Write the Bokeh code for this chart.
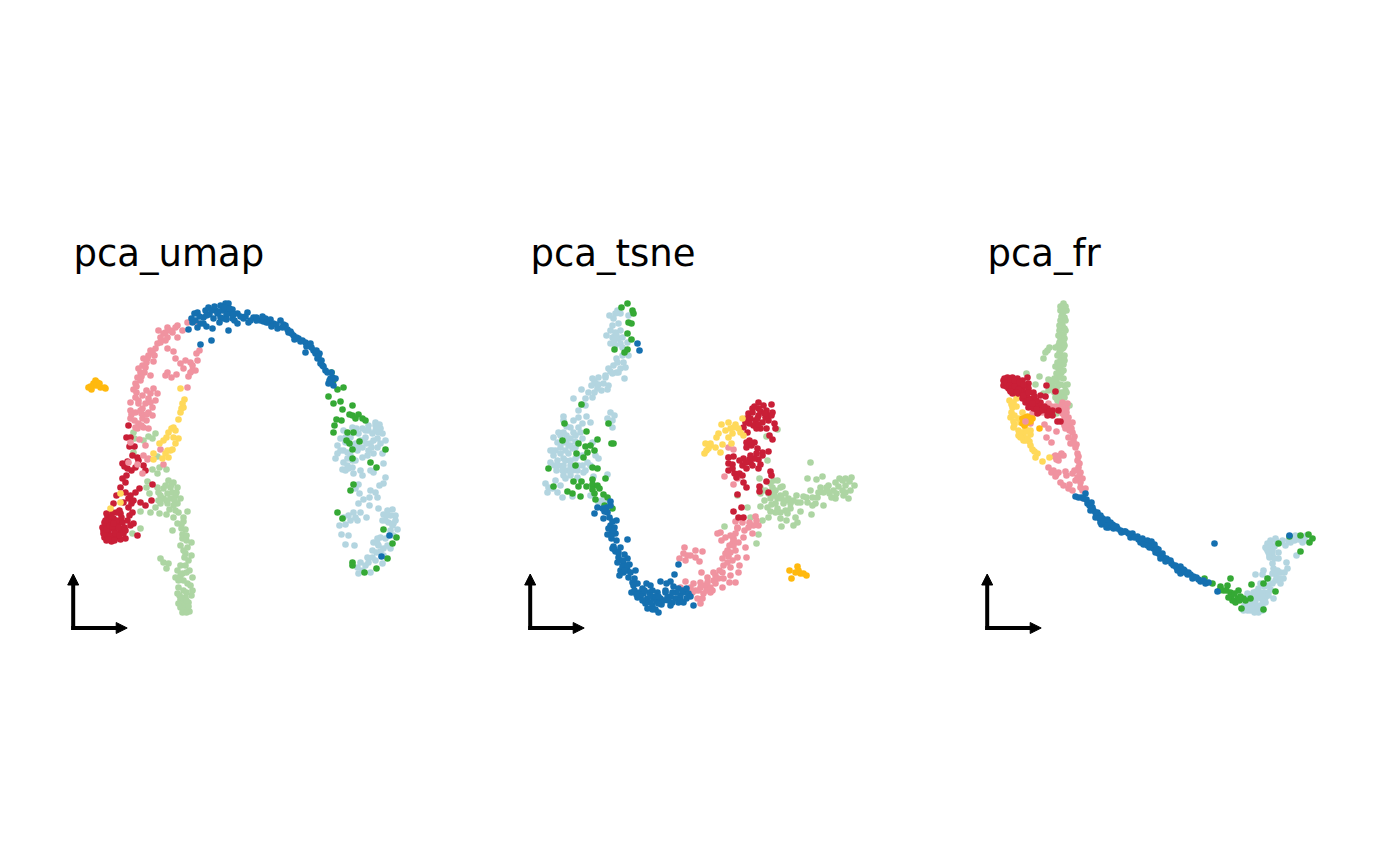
from bokeh.plotting import figure
from bokeh.layouts import row
from bokeh.models import Arrow, NormalHead
from bokeh.core.properties import value
from bokeh.embed import file_html
from bokeh.resources import INLINE

RED = "#C91F37"; PINK = "#F093A0"; LGREEN = "#ADD5A3"; GREEN = "#35A935"
BLUE = "#1570B0"; LBLUE = "#B3D5E0"; YELLOW = "#FFD95A"; ORANGE = "#FFB90F"

titles = ["pca_umap", "pca_tsne", "pca_fr"]

umap_orange = [(88,387),(91,389),(93,383),(95,380),(97,382),(96,385),(100,387),(104,387),(105,388),(93,385),(90,386),(99,383)]
umap_red = [(103,530),(105,525),(104,537),(106,540),(108,533),(110,528),(112,535),(114,530),(116,537),(118,533),(120,528),(122,531),(110,522),(113,518),(107,516),(115,525),(118,522),(122,522),(125,538),(120,539),(111,541),(107,535),(103,533),(116,512),(120,513),(108,520),(112,512),(106,513),(124,527),(102,527),(110,536),(128,425),(126,437),(130,437),(129,446),(134,446),(132,455),(137,457),(122,463),(127,468),(135,467),(143,465),(145,470),(122,478),(125,482),(120,487),(139,488),(135,492),(128,498),(116,495),(123,502),(113,503),(140,502),(145,505),(151,500),(152,484),(128,507),(132,512),(133,523),(137,535),(119,510),(131,503),(127,461),(126,475),(130,495),(133,500),(129,515),(125,492),(124,466),(131,470),(138,460),(104,522),(106,529),(109,525),(112,526),(115,533),(119,535),(114,540),(108,539),(116,520),(121,517),(111,516),(105,520),(118,527),(123,533),(113,523),(125,530),(127,520),(130,525)]
umap_pink = [(187,322),(177,325),(167,327),(172,332),(163,333),(167,337),(177,337),(160,337),(157,343),(155,348),(150,350),(148,355),(153,361),(143,358),(142,365),(150,375),(140,372),(137,377),(135,383),(140,380),(133,389),(153,388),(150,393),(157,393),(148,398),(142,395),(135,397),(138,403),(130,402),(152,407),(148,412),(130,410),(135,412),(142,408),(130,418),(142,418),(138,423),(135,427),(143,427),(148,428),(137,428),(139,439),(145,445),(130,442),(160,449),(143,455),(148,458),(128,462),(137,464),(142,473),(163,464),(167,348),(173,351),(175,358),(180,363),(183,368),(167,372),(165,375),(171,377),(176,374),(188,376),(192,370),(195,370),(190,362),(192,365),(197,360),(196,353),(199,350),(187,387),(198,323),(182,330),(158,330),(152,352),(146,362),(138,368),(144,372),(146,390),(136,392),(150,402),(141,413),(146,420),(134,420),(170,330),(165,340),(147,459),(175,327),(165,332),(160,342),(154,355),(147,358),(145,367),(141,376),(136,386),(138,400),(145,403),(140,410),(146,414),(152,415),(141,425),(131,414),(155,400),(185,360),(190,372)]
umap_yellow = [(180,388),(184,399),(183,407),(180,412),(178,419),(173,427),(168,432),(166,437),(163,440),(159,443),(173,437),(178,438),(175,443),(170,450),(165,453),(167,450),(153,453),(153,459),(162,458),(120,493),(120,502),(110,508),(182,403),(181,408),(175,430),(171,428),(168,457),(172,449)]
umap_lgreen = [(133,432),(134,438),(143,440),(148,436),(152,438),(155,433),(133,452),(157,456),(152,469),(159,467),(166,469),(157,473),(147,481),(146,487),(149,493),(157,487),(158,492),(168,480),(173,482),(177,487),(170,487),(163,488),(167,493),(175,495),(180,498),(170,498),(163,498),(167,503),(177,503),(160,503),(155,507),(150,512),(140,511),(159,513),(166,514),(173,517),(178,512),(187,511),(183,517),(183,521),(177,523),(181,528),(185,529),(172,530),(140,528),(132,533),(182,538),(191,542),(180,545),(187,547),(191,555),(185,553),(188,560),(160,558),(163,562),(168,563),(166,568),(180,565),(185,565),(177,570),(182,573),(192,577),(175,577),(187,583),(178,587),(177,593),(183,590),(191,595),(185,597),(180,599),(188,602),(181,605),(185,607),(189,611),(180,607),(165,485),(172,492),(160,495),(174,500),(182,534),(186,535),(183,550),(189,570),(183,580),(186,592),(179,595),(184,602),(188,606),(183,610),(171,484),(166,500),(173,505),(158,500),(176,492),(169,509),(175,510),(181,524),(186,540),(184,557),(186,572),(180,575),(178,580),(190,585),(192,590),(181,597),(186,600),(178,603),(182,612),(186,612)]
umap_blue = [(188,329),(192,322),(194,313),(197,312),(197,327),(200,323),(203,317),(205,310),(208,307),(213,318),(212,328),(215,310),(220,305),(220,317),(223,318),(225,303),(228,303),(227,310),(230,313),(232,318),(237,313),(228,330),(211,340),(200,344),(237,323),(247,312),(243,318),(248,322),(253,317),(260,320),(265,318),(268,322),(273,323),(280,320),(277,328),(285,325),(288,332),(293,335),(298,338),(305,342),(308,345),(305,352),(313,350),(319,353),(317,358),(320,363),(325,370),(332,377),(328,383),(333,385),(330,378),(203,323),(209,314),(222,310),(226,314),(232,309),(218,311),(234,320),(256,320),(263,321),(270,319),(283,324),(291,333),(296,337),(302,340),(311,347),(315,353),(322,365),(331,372),(329,380),(191,318),(195,320),(199,316),(206,315),(211,310),(214,306),(217,313),(224,307),(229,308),(233,314),(240,316),(245,316),(250,320),(256,317),(262,316),(266,322),(271,326),(276,324),(282,327),(287,329),(290,331),(294,339),(300,341),(306,346),(310,343),(316,350),(318,356),(321,360),(323,366),(327,372),(331,381),(335,378),(226,319),(219,322),(206,326)]
umap_green = [(331,372),(333,380),(337,389),(343,387),(328,396),(333,403),(340,401),(352,405),(342,409),(352,415),(336,419),(341,420),(355,418),(362,418),(365,420),(334,425),(333,432),(353,432),(347,432),(346,440),(349,443),(359,441),(352,449),(385,449),(352,458),(370,462),(376,467),(353,484),(350,490),(337,512),(342,518),(352,562),(352,565),(364,572),(376,568),(387,558),(392,543),(396,537),(383,529),(349,414),(358,414)]
umap_blue2 = [(389,535),(381,556)]
umap_lblue = [(337,445),(340,438),(343,430),(352,427),(362,428),(368,425),(375,422),(380,428),(382,433),(372,433),(365,437),(358,433),(350,437),(377,438),(380,443),(370,443),(362,447),(357,450),(350,455),(343,450),(337,453),(335,458),(343,462),(347,465),(342,469),(352,467),(353,473),(360,470),(362,475),(373,453),(367,455),(362,457),(382,453),(383,463),(373,472),(385,477),(383,483),(379,485),(358,484),(355,488),(359,493),(370,490),(375,492),(369,497),(377,497),(363,499),(358,503),(369,505),(353,512),(360,512),(355,517),(378,508),(387,510),(392,509),(395,515),(383,514),(382,520),(388,522),(393,523),(366,517),(357,520),(343,517),(339,525),(345,524),(341,534),(348,535),(345,544),(354,545),(397,529),(377,538),(373,542),(380,537),(385,538),(378,545),(383,548),(390,548),(372,557),(367,557),(360,562),(357,567),(358,573),(370,572),(382,563),(345,442),(355,443),(365,430),(375,430),(371,447),(377,447),(347,458),(368,450),(363,440),(385,520),(380,551),(365,565),(375,560),(379,424),(348,468),(390,530),(347,440),(352,445),(358,447),(366,443),(373,440),(378,432),(368,430),(356,428),(345,437),(340,450),(347,452),(355,460),(345,470),(375,425),(385,440),(360,440),(370,470),(352,460),(390,515),(392,525),(386,515),(393,535),(395,520),(377,543),(372,550),(368,562),(362,570),(376,552),(383,555),(387,545),(350,520),(348,515)]

tsne_lblue = [(609,315),(617,310),(620,313),(628,315),(613,318),(618,323),(610,330),(615,332),(620,330),(612,337),(618,338),(610,343),(615,345),(620,343),(627,342),(628,355),(622,355),(616,358),(623,362),(613,365),(608,368),(620,368),(625,367),(612,373),(624,378),(598,377),(605,377),(603,383),(608,385),(595,383),(591,385),(607,389),(581,389),(597,388),(588,392),(592,397),(585,398),(573,398),(582,404),(585,405),(578,410),(578,417),(563,416),(563,420),(610,412),(614,415),(607,418),(612,420),(612,427),(590,422),(582,423),(578,427),(570,427),(563,432),(558,432),(573,432),(580,432),(570,438),(582,438),(592,442),(563,442),(557,442),(568,445),(575,447),(560,447),(550,450),(560,453),(553,455),(568,453),(582,455),(595,455),(598,458),(550,462),(557,460),(570,460),(563,465),(558,465),(570,465),(582,465),(590,465),(562,470),(577,470),(583,472),(563,475),(570,475),(593,476),(607,474),(577,477),(565,478),(545,483),(560,485),(548,487),(552,488),(547,492),(557,492),(562,497),(572,496),(590,495),(598,502),(594,381),(598,384),(572,448),(565,450),(575,458),(555,450),(587,462),(566,435),(601,500),(605,503),(614,336),(622,337),(616,372),(610,371),(553,437),(566,440),(575,441),(552,450),(563,458),(572,470),(565,460),(578,455),(554,465),(556,470),(567,470),(578,465),(570,445),(560,435),(575,435),(605,375),(592,378),(601,390),(594,392),(615,313),(612,325),(606,335),(616,335),(622,347),(614,340),(617,362),(618,372),(555,480),(585,470),(570,470),(573,420),(566,426),(586,416)]
tsne_green = [(627,303),(621,307),(632,310),(633,313),(628,322),(631,323),(627,333),(631,339),(614,349),(627,349),(624,352),(581,404),(608,423),(564,423),(586,431),(597,439),(562,440),(611,443),(613,443),(578,443),(585,446),(590,445),(594,450),(576,453),(587,452),(583,457),(575,465),(592,467),(597,468),(548,468),(605,478),(592,479),(573,481),(581,481),(553,486),(578,486),(586,486),(592,484),(597,485),(599,488),(592,489),(567,491),(572,493),(580,496),(594,493),(603,494),(595,499),(607,497),(604,505),(612,508)]
tsne_blue = [(637,343),(639,350),(610,501),(597,507),(594,513),(602,508),(606,507),(607,512),(603,518),(609,517),(616,520),(610,525),(614,527),(612,532),(607,534),(615,533),(611,538),(616,540),(627,539),(613,546),(612,548),(620,547),(615,551),(624,554),(618,557),(627,558),(617,562),(623,563),(629,564),(620,570),(627,570),(635,570),(619,575),(628,577),(632,582),(637,583),(633,585),(631,592),(639,592),(646,583),(650,585),(637,597),(643,593),(647,598),(652,590),(657,592),(653,598),(660,581),(666,583),(670,581),(660,598),(665,592),(667,597),(647,608),(652,605),(655,609),(658,612),(673,586),(678,588),(674,574),(678,564),(670,605),(675,598),(680,595),(685,592),(688,593),(683,602),(693,605),(672,602),(678,602),(611,529),(622,560),(625,567),(642,588),(649,592),(656,601),(650,602),(661,604),(670,596),(676,592),(682,590),(644,600),(634,590),(610,505),(604,511),(612,521),(608,528),(611,535),(613,530),(614,549),(618,552),(622,566),(623,572),(630,572),(627,565),(634,578),(640,596),(645,603),(650,595),(655,596),(663,600),(658,603),(665,590),(672,592),(680,600),(686,598),(690,596),(644,590),(636,594),(642,600),(652,609),(658,596),(668,600),(686,588),(624,570)]
tsne_orange = [(789,570),(797,566),(795,572),(791,578),(800,573),(806,575),(798,570),(803,573)]
tsne_yellow = [(742,418),(721,424),(728,422),(735,424),(730,428),(718,433),(716,437),(732,433),(728,437),(740,432),(743,435),(705,443),(710,445),(715,447),(722,444),(731,443),(708,448),(704,453),(720,452),(725,430),(733,427),(710,443),(706,450),(738,428)]
tsne_red = [(758,402),(771,404),(752,408),(763,405),(758,408),(766,410),(772,412),(748,413),(758,415),(765,417),(746,418),(755,420),(762,422),(774,423),(753,425),(743,427),(760,428),(747,432),(766,428),(775,428),(746,442),(754,442),(772,439),(746,447),(757,448),(762,452),(768,451),(733,456),(743,458),(762,455),(728,457),(758,459),(750,462),(728,463),(742,465),(746,468),(758,468),(728,470),(770,471),(734,473),(739,473),(771,475),(736,477),(743,482),(746,487),(766,481),(759,486),(759,491),(768,492),(737,494),(741,507),(733,511),(738,517),(743,517),(752,412),(760,411),(750,418),(768,420),(756,428),(750,455),(754,458),(754,406),(768,415),(757,418),(749,423),(745,422),(771,415),(758,424),(764,413),(749,459),(745,462),(752,465),(756,453),(760,464),(732,464),(732,468),(742,475),(749,440),(769,435),(751,445),(739,460)]
tsne_lgreen = [(777,429),(766,436),(767,460),(810,462),(759,478),(773,480),(777,480),(807,478),(816,479),(822,476),(851,477),(760,487),(772,487),(782,486),(842,480),(835,482),(828,485),(854,485),(820,487),(845,485),(760,493),(772,493),(737,495),(785,493),(810,490),(823,492),(833,490),(842,490),(770,498),(777,498),(788,498),(803,496),(817,497),(848,498),(835,498),(775,503),(783,503),(797,502),(807,502),(815,503),(823,505),(760,506),(747,507),(767,507),(777,508),(790,508),(800,511),(780,512),(768,517),(787,513),(795,517),(780,518),(786,520),(811,514),(750,517),(762,520),(797,522),(793,525),(781,526),(724,526),(758,534),(756,543),(775,490),(780,495),(771,504),(793,500),(812,497),(827,490),(838,486),(849,481),(843,495),(765,490),(770,483),(774,495),(781,498),(785,500),(790,503),(796,495),(806,497),(812,505),(818,492),(829,493),(831,497),(826,487),(836,493),(845,492),(850,490),(845,478),(839,478),(785,510),(775,512),(770,511),(764,500),(780,487),(768,493),(800,502)]
tsne_pink = [(728,447),(733,449),(728,457),(724,476),(737,478),(733,484),(755,516),(735,521),(742,522),(749,522),(753,525),(737,527),(748,527),(758,525),(720,532),(717,533),(752,533),(743,537),(733,538),(725,537),(721,540),(738,542),(732,543),(745,547),(735,550),(684,547),(737,557),(746,557),(702,551),(683,553),(679,558),(690,555),(695,557),(685,560),(699,561),(732,560),(727,562),(723,565),(739,565),(730,567),(701,572),(722,572),(738,572),(715,575),(707,577),(723,578),(700,582),(713,580),(729,582),(735,582),(693,583),(685,581),(705,585),(722,587),(710,587),(680,587),(698,590),(692,592),(710,592),(703,593),(702,598),(697,598),(700,603),(733,545),(730,552),(728,556),(719,570),(706,590),(715,583),(687,590),(727,550),(725,553),(733,540),(729,545),(744,530),(735,533),(712,590),(707,582),(718,578),(700,587),(690,587),(695,590),(687,555),(695,550),(722,558),(730,575),(713,572),(737,528),(756,520),(730,535)]

fr_lgreen = [(1063,303),(1061,306),(1065,306),(1060,310),(1066,310),(1062,314),(1064,317),(1060,320),(1062,325),(1059,330),(1063,334),(1060,338),(1063,342),(1058,345),(1062,348),(1059,352),(1062,356),(1060,360),(1063,364),(1058,368),(1061,372),(1058,376),(1063,378),(1056,381),(1060,384),(1064,385),(1052,384),(1056,388),(1067,384),(1061,392),(1054,392),(1050,380),(1066,392),(1060,397),(1057,400),(1062,402),(1058,408),(1069,405),(1049,347),(1047,350),(1045,352),(1043,358),(1055,347),(1063,347),(1055,366),(1026,373),(1039,376),(1035,384),(1048,379),(1043,393),(1048,390),(1056,413),(1065,405),(1064,328),(1061,335),(1060,345),(1064,355),(1057,362),(1060,306),(1063,311),(1061,316),(1065,320),(1059,325),(1065,330),(1058,335),(1064,338),(1059,342),(1064,345),(1060,350),(1064,360),(1057,355),(1060,365),(1063,370),(1056,373),(1060,377),(1054,378),(1058,385),(1065,390),(1051,388),(1055,397),(1059,404),(1064,397),(1058,393)]
fr_red = [(1003,380),(1007,377),(1012,377),(1017,378),(1022,380),(1027,377),(1003,385),(1008,383),(1013,383),(1018,385),(1028,383),(1008,388),(1015,388),(1022,388),(1028,388),(1012,393),(1018,393),(1025,392),(1033,392),(1022,398),(1027,397),(1032,398),(1040,395),(1046,385),(1055,391),(1045,396),(1025,402),(1030,403),(1035,402),(1028,407),(1037,405),(1042,407),(1033,408),(1047,408),(1038,412),(1045,410),(1052,410),(1058,410),(1047,415),(1052,415),(1037,413),(1060,421),(1057,421),(1006,386),(1010,390),(1016,381),(1020,391),(1026,394),(1031,405),(1040,402),(1004,378),(1006,382),(1010,380),(1014,380),(1019,382),(1009,385),(1011,388),(1014,386),(1018,389),(1016,392),(1010,391),(1024,385),(1023,395),(1028,392),(1034,396),(1029,400),(1036,400),(1032,403),(1041,410),(1036,409),(1023,384),(1044,406),(1049,411)]
fr_yellow = [(1009,400),(1016,398),(1013,402),(1012,407),(1011,412),(1010,417),(1022,412),(1018,418),(1013,421),(1013,427),(1018,430),(1025,428),(1030,430),(1018,435),(1023,435),(1030,434),(1023,440),(1029,441),(1030,445),(1032,449),(1037,453),(1035,457),(1042,461),(1049,457),(1020,422),(1011,404),(1014,415),(1014,424),(1021,432),(1026,431),(1020,437),(1025,440),(1027,438),(1034,451),(1016,406)]
fr_orange = [(1022,418),(1025,417),(1030,418),(1022,423),(1027,422),(1024,425),(1039,428),(1032,418),(1025,420),(1028,419),(1030,421),(1023,421),(1027,416),(1024,423)]
fr_pink = [(1032,413),(1042,412),(1030,423),(1044,424),(1048,428),(1046,437),(1051,442),(1056,431),(1048,403),(1051,406),(1055,406),(1062,402),(1067,403),(1066,412),(1068,417),(1063,422),(1070,423),(1065,428),(1072,432),(1068,437),(1073,440),(1070,443),(1075,447),(1077,453),(1055,455),(1060,455),(1058,460),(1063,455),(1077,460),(1078,467),(1048,467),(1051,472),(1058,472),(1065,471),(1072,473),(1077,477),(1055,476),(1080,482),(1060,482),(1068,488),(1063,485),(1080,487),(1085,488),(1072,490),(1083,498),(1066,408),(1064,416),(1067,425),(1071,428),(1074,436),(1076,444),(1077,470),(1079,475),(1075,480),(1064,410),(1062,413),(1067,420),(1069,430),(1073,443),(1078,456),(1079,463),(1080,472),(1082,478),(1069,484),(1066,475),(1053,470),(1056,474),(1074,470),(1082,490),(1072,422),(1064,425),(1061,405),(1054,456),(1056,459),(1061,453)]
fr_pink_top = [(1025,421)]
fr_blue = [(1075,496),(1078,497),(1085,493),(1083,498),(1087,503),(1092,507),(1090,510),(1097,512),(1095,517),(1102,518),(1100,522),(1105,523),(1108,527),(1093,510),(1097,515),(1102,518),(1105,523),(1110,525),(1113,528),(1120,530),(1128,533),(1130,537),(1137,536),(1140,542),(1145,542),(1150,543),(1153,548),(1158,553),(1163,557),(1168,560),(1173,565),(1178,568),(1185,572),(1193,576),(1198,579),(1205,583),(1208,582),(1217,591),(1214,543),(1289,535),(1100,515),(1107,521),(1112,524),(1116,526),(1124,531),(1132,533),(1142,538),(1147,540),(1152,545),(1155,549),(1160,555),(1166,558),(1171,563),(1176,567),(1181,570),(1187,574),(1190,574),(1149,547),(1151,541),(1156,548),(1180,566),(1183,569),(1101,524),(1106,527),(1095,512),(1099,518),(1103,521),(1107,525),(1110,522),(1114,526),(1117,528),(1121,532),(1125,531),(1130,534),(1134,537),(1138,539),(1141,540),(1143,544),(1147,545),(1150,546),(1154,544),(1155,552),(1158,549),(1162,553),(1160,558),(1165,561),(1170,560),(1175,565),(1177,570),(1180,573),(1184,570),(1188,572),(1192,578),(1196,577),(1200,581),(1203,580),(1089,505),(1091,502),(1081,497),(1086,499),(1107,519),(1113,525)]
fr_green = [(1204,578),(1212,583),(1220,586),(1227,585),(1230,578),(1223,590),(1230,592),(1238,590),(1232,600),(1237,598),(1243,598),(1235,602),(1241,608),(1251,584),(1250,598),(1263,583),(1267,578),(1275,591),(1263,609),(1278,543),(1289,536),(1300,551),(1309,542),(1312,538),(1308,534),(1300,535),(1226,590),(1239,600),(1219,590),(1231,595),(1234,593),(1228,597),(1245,600),(1240,596)]
fr_lblue = [(1267,543),(1270,540),(1275,538),(1282,540),(1290,542),(1295,535),(1303,537),(1302,542),(1285,545),(1267,550),(1272,555),(1278,552),(1278,558),(1296,555),(1286,562),(1287,568),(1273,568),(1263,570),(1255,574),(1262,574),(1280,572),(1272,573),(1283,578),(1275,580),(1268,585),(1280,583),(1258,588),(1253,592),(1263,592),(1247,593),(1257,597),(1265,597),(1273,598),(1247,602),(1253,603),(1262,603),(1243,610),(1250,610),(1258,612),(1247,607),(1255,608),(1270,589),(1250,597),(1256,591),(1261,598),(1268,592),(1252,606),(1266,548),(1274,546),(1269,555),(1275,572),(1268,578),(1260,583),(1264,586),(1250,602),(1255,600),(1260,606),(1265,602),(1257,605),(1262,607),(1245,606),(1252,600),(1248,597),(1244,605),(1260,593),(1268,595),(1256,594),(1272,583),(1276,576),(1280,578),(1284,572),(1277,570),(1272,563),(1268,546),(1272,550),(1270,544),(1276,541),(1268,552),(1280,542),(1288,540),(1294,540),(1298,539),(1304,540),(1306,535),(1265,547),(1269,557),(1274,558),(1247,610),(1254,612),(1262,610),(1258,608)]

panels = [
    (0, [(umap_lblue, LBLUE), (umap_green, GREEN), (umap_lgreen, LGREEN), (umap_red, RED), (umap_pink, PINK), (umap_yellow, YELLOW), (umap_orange, ORANGE), (umap_blue, BLUE), (umap_blue2, BLUE)]),
    (457, [(tsne_lblue, LBLUE), (tsne_green, GREEN), (tsne_lgreen, LGREEN), (tsne_pink, PINK), (tsne_red, RED), (tsne_yellow, YELLOW), (tsne_orange, ORANGE), (tsne_blue, BLUE)]),
    (914, [(fr_lblue, LBLUE), (fr_green, GREEN), (fr_lgreen, LGREEN), (fr_pink, PINK), (fr_yellow, YELLOW), (fr_red, RED), (fr_orange, ORANGE), (fr_pink_top, PINK), (fr_blue, BLUE)]),
]

figs = []
for title, (x0, groups) in zip(titles, panels):
    x1 = x0 + 457
    p = figure(width=457, height=850, x_range=(x0, x1), y_range=(850, 0),
               x_axis_type=None, y_axis_type=None, toolbar_location=None,
               output_backend="svg", min_border=0, outline_line_color=None,
               background_fill_color="white")
    p.grid.visible = False
    for pts, col in groups:
        p.scatter([a for a, _ in pts], [b for _, b in pts], size=6.6, color=col, line_color=None)
    ox = x0 + 72.7
    oy = 627.5
    p.segment([ox, ox - 2], [oy + 2, oy], [ox, ox + 50], [oy - 50, oy], line_width=4, line_color="black")
    p.add_layout(Arrow(end=NormalHead(size=11, fill_color="black", line_color="black"),
                       x_start=ox, y_start=oy - 46, x_end=ox, y_end=oy - 54, line_width=4, line_color="black"))
    p.add_layout(Arrow(end=NormalHead(size=11, fill_color="black", line_color="black"),
                       x_start=ox + 46, y_start=oy, x_end=ox + 54, y_end=oy, line_width=4, line_color="black"))
    p.text([x0 + 73], [252.5], text=[title], text_font=value("DejaVu Sans"), text_font_size="37px",
           text_baseline="alphabetic", text_align="left", text_color="black")
    figs.append(p)

layout = row(*figs, spacing=0)
open("out.html", "w").write(file_html(layout, INLINE))
